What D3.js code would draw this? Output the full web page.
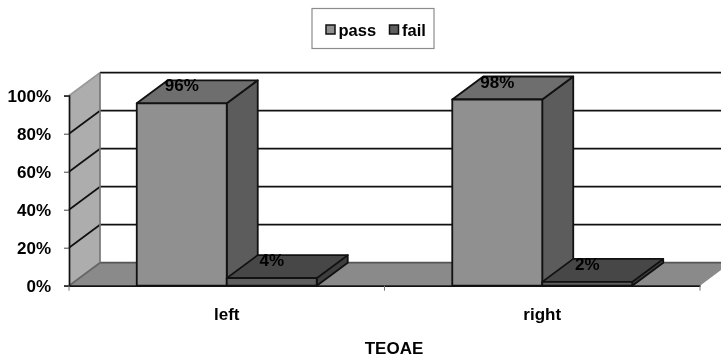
<!DOCTYPE html>
<html>
<head>
<meta charset="utf-8">
<script src="https://cdn.jsdelivr.net/npm/d3@7"></script>
<style>
  html, body { margin: 0; padding: 0; background: #fff; }
  svg { display: block; filter: blur(0.4px); }
  text { font-family: "Liberation Sans", Arial, sans-serif; font-weight: bold; fill: #000; }
</style>
</head>
<body>
<div id="chart"></div>
<script>
const categories = ["left", "right"];
const series_names = ["pass", "fail"];
const pass_values = [96, 98];
const fail_values = [4, 2];
const y_ticks = [0, 20, 40, 60, 80, 100];
const x_title = "TEOAE";

const width = 721, height = 358;
const plot = {left: 69, right: 700, top: 95.7, bottom: 285.7};
// Offset of the back of the 3d box
const depth = {x: 31, y: -23};

const colors = {
    pass: {front: "#909090", top: "#6e6e6e", side: "#5c5c5c"},
    fail: {front: "#5e5e5e", top: "#474747", side: "#3e3e3e"},
    wall: "#adadad",
    floor: "#8a8a8a",
    line: "#111"
};

const svg = d3.select("#chart").append("svg")
    .attr("width", width)
    .attr("height", height);

const x = d3.scaleBand()
    .domain(categories)
    .range([plot.left, plot.right]);

// Bars inside one category
const x_inner = d3.scaleBand()
    .domain(series_names)
    .range([0, x.bandwidth()])
    .paddingInner(0)
    .paddingOuter(0.753);

const y = d3.scaleLinear()
    .domain([0, 100])
    .range([plot.bottom, plot.top]);

const poly = pts => pts.map(p => p.join(",")).join(" ");

// Floor
svg.append("polygon")
    .attr("points", poly([
        [plot.left, y(0)],
        [plot.right, y(0)],
        [plot.right + depth.x, y(0) + depth.y],
        [plot.left + depth.x, y(0) + depth.y]
    ]))
    .attr("fill", colors.floor);

// Left wall
svg.append("polygon")
    .attr("points", poly([
        [plot.left, y(0)],
        [plot.left + depth.x, y(0) + depth.y],
        [plot.left + depth.x, y(100) + depth.y],
        [plot.left, y(100)]
    ]))
    .attr("fill", colors.wall);

// Gridlines on the back wall and along the left wall
const grid = svg.append("g").attr("stroke", colors.line).attr("stroke-width", 1.7);
grid.selectAll(".back").data(y_ticks).join("line")
    .attr("class", "back")
    .attr("x1", plot.left + depth.x)
    .attr("x2", width)
    .attr("y1", d => y(d) + depth.y)
    .attr("y2", d => y(d) + depth.y)
    .attr("stroke", d => d === 0 ? "#555" : colors.line);
grid.selectAll(".diag").data(y_ticks.filter(d => d > 0)).join("line")
    .attr("class", "diag")
    .attr("x1", plot.left)
    .attr("x2", plot.left + depth.x)
    .attr("y1", d => y(d))
    .attr("y2", d => y(d) + depth.y)
    .attr("stroke", d => d === 100 ? "#999" : colors.line);
grid.append("line")
    .attr("x1", plot.left + depth.x).attr("x2", plot.left + depth.x)
    .attr("y1", y(0) + depth.y).attr("y2", y(100) + depth.y)
    .attr("stroke", "#777");
grid.append("line")
    .attr("x1", plot.left).attr("x2", plot.left + depth.x)
    .attr("y1", y(0)).attr("y2", y(0) + depth.y)
    .attr("stroke", "#666");

// Bars
const bar_rows = categories.flatMap((c, i) => [
    {cat: c, name: "pass", value: pass_values[i]},
    {cat: c, name: "fail", value: fail_values[i]}
]);

const bars = svg.selectAll(".bar").data(bar_rows).join("g")
    .attr("class", "bar")
    .attr("stroke", colors.line)
    .attr("stroke-width", 1.8)
    .attr("stroke-linejoin", "round");

const bar_x0 = d => x(d.cat) + x_inner(d.name);
const bar_x1 = d => bar_x0(d) + x_inner.bandwidth();

bars.append("polygon")
    .attr("fill", d => colors[d.name].side)
    .attr("points", d => poly([
        [bar_x1(d), y(0)],
        [bar_x1(d) + depth.x, y(0) + depth.y],
        [bar_x1(d) + depth.x, y(d.value) + depth.y],
        [bar_x1(d), y(d.value)]
    ]));
bars.append("polygon")
    .attr("fill", d => colors[d.name].top)
    .attr("points", d => poly([
        [bar_x0(d), y(d.value)],
        [bar_x1(d), y(d.value)],
        [bar_x1(d) + depth.x, y(d.value) + depth.y],
        [bar_x0(d) + depth.x, y(d.value) + depth.y]
    ]));
bars.append("rect")
    .attr("fill", d => colors[d.name].front)
    .attr("x", bar_x0)
    .attr("y", d => y(d.value))
    .attr("width", x_inner.bandwidth())
    .attr("height", d => y(0) - y(d.value));

// Value labels
bars.append("text")
    .attr("stroke", "none")
    .attr("x", d => (bar_x0(d) + bar_x1(d)) / 2)
    .attr("y", d => y(d.value) - 12)
    .attr("text-anchor", "middle")
    .attr("font-size", 17)
    .text(d => d.value + "%");

// Y axis
const y_axis = svg.append("g")
    .attr("transform", `translate(${plot.left},0)`)
    .call(d3.axisLeft(y).tickValues(y_ticks).tickFormat(d => d + "%").tickSize(5).tickPadding(13));
y_axis.selectAll("text").attr("font-size", 17).attr("dy", "0.34em");
y_axis.selectAll("line").attr("stroke", "#444");
y_axis.select(".domain").attr("stroke", colors.line).attr("stroke-width", 1.7);

// X axis, the tick marks sit on the category edges
const x_axis = svg.append("g")
    .attr("transform", `translate(0,${plot.bottom})`)
    .call(d3.axisBottom(x).tickSize(0).tickPadding(22));
x_axis.selectAll("text").attr("font-size", 17);
x_axis.select(".domain").attr("stroke", colors.line).attr("stroke-width", 1.7);
x_axis.selectAll(".edge").data(x.domain().map(c => x(c)).concat(plot.right)).join("line")
    .attr("class", "edge")
    .attr("x1", d => d).attr("x2", d => d)
    .attr("y1", 0).attr("y2", 5)
    .attr("stroke", "#777");

svg.append("text")
    .attr("x", 394)
    .attr("y", 353.5)
    .attr("text-anchor", "middle")
    .attr("font-size", 17)
    .text(x_title);

// Legend
const legend = svg.append("g");
legend.append("rect")
    .attr("x", 312).attr("y", 8.5)
    .attr("width", 122).attr("height", 40)
    .attr("fill", "#fff")
    .attr("stroke", "#8c8c8c")
    .attr("stroke-width", 1.2);
const legend_x = d3.scaleOrdinal().domain(series_names).range([326, 389.5]);
const items = legend.selectAll(".item").data(series_names).join("g")
    .attr("class", "item")
    .attr("transform", d => `translate(${legend_x(d)},25)`);
items.append("rect")
    .attr("width", 9).attr("height", 9)
    .attr("fill", d => colors[d].front)
    .attr("stroke", colors.line)
    .attr("stroke-width", 1.5);
items.append("text")
    .attr("x", 12.5)
    .attr("y", 11)
    .attr("font-size", 16.5)
    .text(d => d);
</script>
</body>
</html>
